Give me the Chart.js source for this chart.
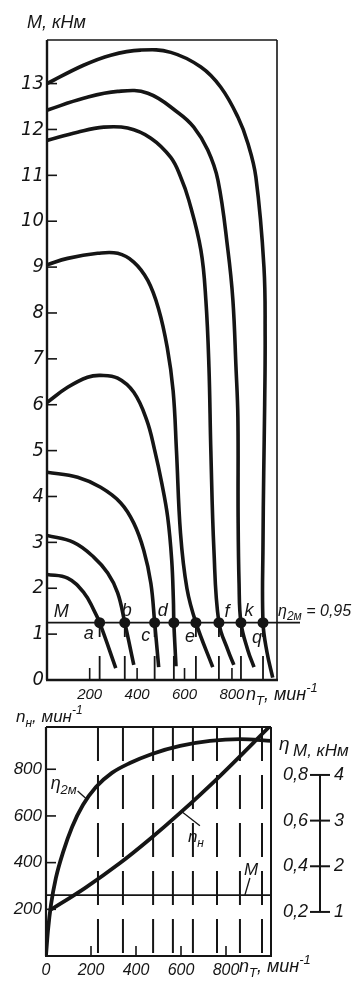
<!DOCTYPE html>
<html>
<head>
<meta charset="utf-8">
<script src="https://cdn.jsdelivr.net/npm/chart.js@4.4.1/dist/chart.umd.min.js"></script>
<style>
  html, body { margin: 0; padding: 0; background: #fff; }
  #wrap { position: relative; width: 364px; height: 989px; overflow: hidden; }
  #topChart { position: absolute; left: 0; top: 0; }
  #bottomChart { position: absolute; left: 0; top: 700px; }
</style>
</head>
<body>
<div id="wrap">
  <canvas id="topChart" width="364" height="720"></canvas>
  <canvas id="bottomChart" width="364" height="289"></canvas>
</div>
<script>
// ---- upper plot: M, kNm against n_T, one curve per working point
const curveA = [[20, 2.3], [107, 2.22], [176, 1.9], [217, 1.53], [242, 1.25], [310, 0.26]];
const curveB = [[20, 3.15], [132, 3.0], [217, 2.68], [276, 2.33], [318, 1.9], [348, 1.25], [386, 0.33]];
const curveC = [[20, 4.53], [149, 4.42], [246, 4.2], [331, 3.86], [386, 3.42], [428, 2.83], [458, 2.11], [474, 1.25], [491, 0.28]];
const curveD = [[20, 6.05], [107, 6.38], [191, 6.6], [246, 6.64], [318, 6.58], [386, 6.27], [441, 5.66], [474, 5.01], [504, 4.29], [529, 3.55], [546, 2.61], [553, 1.74], [555, 1.25], [564, 0.3]];
const curveE = [[20, 9.05], [107, 9.19], [234, 9.3], [318, 9.3], [386, 9.11], [445, 8.71], [490, 8.1], [527, 7.25], [552, 6.3], [566, 5.0], [583, 3.2], [610, 2.0], [648, 1.25], [719, 0.28]];
const curveF = [[20, 11.76], [149, 11.94], [259, 12.05], [360, 12.03], [458, 11.81], [542, 11.39], [584, 10.96], [618, 10.46], [669, 9.37], [690, 8.28], [703, 6.82], [711, 5.0], [724, 2.83], [745, 1.25], [783, 0.65], [808, 0.33]];
const curveK = [[20, 12.42], [174, 12.68], [318, 12.83], [445, 12.79], [572, 12.37], [639, 12.05], [698, 11.55], [741, 10.89], [783, 9.37], [804, 8.28], [817, 6.82], [825, 5.73], [826, 3.55], [830, 2.11], [838, 1.25], [867, 0.65], [893, 0.28]];
const curveQ = [[20, 13.0], [174, 13.4], [289, 13.62], [415, 13.73], [542, 13.68], [669, 13.36], [753, 12.92], [825, 12.27], [867, 11.7], [901, 10.96], [935, 9.0], [940, 7.5], [938, 6.0], [934, 4.5], [931, 3.0], [931, 1.25], [948, 0.6], [972, 0.05]];

const pointNames = ["a", "b", "c", "d", "e", "f", "k", "q"];
const pointN = [242, 348, 474, 555, 648, 745, 838, 931];
const loadM = 1.25;
const loadLineEnd = 1087;
const topXTicks = [200, 400, 600, 800];
const topYTicks = [0, 1, 2, 3, 4, 5, 6, 7, 8, 9, 10, 11, 12, 13];

// ---- lower plot: n_H, eta_2m, M against n_T
const etaN = [0, 9, 22, 44, 76, 116, 164, 222, 293, 373, 471, 596, 729, 862, 1000];
const etaVal = [0.01, 0.121, 0.23, 0.349, 0.462, 0.572, 0.668, 0.747, 0.809, 0.852, 0.892, 0.927, 0.949, 0.957, 0.949];
const nhN = [13, 173, 329, 462, 596, 773, 996];
const nhVal = [193, 291, 398, 501, 613, 771, 985];
const dashN = [231, 342, 476, 564, 653, 760, 862, 960];
const loadM2 = 1.37;
const botXTicks = [0, 200, 400, 600, 800];
const botYTicks = [200, 400, 600, 800];
const etaTicks = [0.2, 0.4, 0.6, 0.8];
const mTicks = [1, 2, 3, 4];

const ink = "#151515";
const fam = '"Liberation Sans", Arial, sans-serif';
const narrow = '"Liberation Sans Narrow", "DejaVu Sans Condensed", "Liberation Sans", sans-serif';

const pts = (arr) => arr.map(([x, y]) => ({ x, y }));

function drawRich(ctx, parts, x, y, size) {
    let cx = x;
    ctx.textAlign = "left";
    ctx.textBaseline = "alphabetic";
    parts.forEach((p) => {
        const s = p.sub || p.sup ? Math.round(size * 0.72) : size;
        ctx.font = "italic " + s + "px " + fam;
        const dy = p.sub ? size * 0.3 : p.sup ? -size * 0.45 : 0;
        ctx.fillText(p.t, cx, y + dy);
        cx += ctx.measureText(p.t).width;
    });
}

// frame round the plot area, thicker on the axes
const frame = {
    id: "frame",
    beforeDatasetsDraw(chart, args, opts) {
        const { ctx, chartArea: a } = chart;
        ctx.save();
        ctx.strokeStyle = ink;
        const side = (w, x1, y1, x2, y2) => {
            ctx.lineWidth = w;
            ctx.beginPath();
            ctx.moveTo(x1, y1);
            ctx.lineTo(x2, y2);
            ctx.stroke();
        };
        side(opts.left, a.left, a.top, a.left, a.bottom);
        side(opts.bottom, a.left - 1, a.bottom, a.right + 1, a.bottom);
        side(opts.top, a.left, a.top, a.right, a.top);
        side(opts.right, a.right, a.top, a.right, a.bottom);
        ctx.restore();
    },
};

// short tick marks drawn inwards
const innerTicks = {
    id: "innerTicks",
    afterDatasetsDraw(chart, args, opts) {
        const { ctx, chartArea: a, scales } = chart;
        ctx.save();
        ctx.strokeStyle = ink;
        ctx.lineWidth = 1.6;
        scales.y.ticks.forEach((t) => {
            if (t.value === scales.y.min) return;
            const py = scales.y.getPixelForValue(t.value);
            ctx.beginPath();
            ctx.moveTo(a.left, py);
            ctx.lineTo(a.left + opts.yLen, py);
            ctx.stroke();
        });
        scales.x.ticks.forEach((t) => {
            if (t.value === scales.x.min) return;
            const px = scales.x.getPixelForValue(t.value);
            ctx.beginPath();
            ctx.moveTo(px, a.bottom);
            ctx.lineTo(px, a.bottom - opts.xLen);
            ctx.stroke();
        });
        ctx.restore();
    },
};

// ---------- upper chart ----------
const topNotes = {
    id: "topNotes",
    afterDraw(chart) {
        const { ctx, scales } = chart;
        const x = scales.x, y = scales.y;
        ctx.save();
        ctx.fillStyle = ink;
        drawRich(ctx, [{ t: "M, кНм" }], 27, 28, 18);
        drawRich(ctx, [{ t: "n" }, { t: "Т", sub: true }, { t: ", мин" }, { t: "-1", sup: true }], 246, 700, 18);
        const py = y.getPixelForValue(loadM);
        const offs = [[-11, 11], [2, -12], [-9, 13], [-11, -12], [-6, 14], [8, -11], [8, -12], [-6, 15]];
        ctx.font = "italic 18px " + fam;
        ctx.textAlign = "center";
        ctx.textBaseline = "middle";
        pointNames.forEach((name, i) => {
            const px = x.getPixelForValue(pointN[i]);
            ctx.fillText(name, px + offs[i][0], py + offs[i][1]);
        });
        ctx.fillText("M", x.getPixelForValue(80), py - 11);
        drawRich(ctx, [{ t: "η" }, { t: "2м", sub: true }, { t: " = 0,95" }], 278, py - 7, 16);
        ctx.restore();
    },
};

const topSets = [
    {
        data: pointN.map((n) => ({ x: n, y: loadM })),
        showLine: false,
        pointRadius: 5.5,
        pointBackgroundColor: ink,
        pointBorderColor: ink,
        pointBorderWidth: 0,
    },
];
[curveA, curveB, curveC, curveD, curveE, curveF, curveK, curveQ].forEach((c) => {
    topSets.push({
        data: pts(c),
        showLine: true,
        tension: 0.4,
        borderColor: ink,
        borderWidth: 3.6,
        pointRadius: 0,
    });
});
topSets.push({
    data: [{ x: 20, y: loadM }, { x: loadLineEnd, y: loadM }],
    showLine: true,
    borderColor: ink,
    borderWidth: 1.8,
    pointRadius: 0,
    clip: false,
});
pointN.forEach((n) => {
    topSets.push({
        data: [{ x: n, y: 0 }, { x: n, y: loadM }],
        showLine: true,
        borderColor: ink,
        borderWidth: 1.8,
        borderDash: [24, 19],
        pointRadius: 0,
    });
});

new Chart(document.getElementById("topChart"), {
    type: "scatter",
    data: { datasets: topSets },
    options: {
        responsive: false,
        animation: false,
        layout: { padding: { left: 0, right: 87, top: 40, bottom: 0 } },
        plugins: {
            legend: { display: false },
            tooltip: { enabled: false },
            frame: { left: 2.4, bottom: 2.6, top: 1.5, right: 1.6 },
            innerTicks: { yLen: 10, xLen: 12 },
        },
        scales: {
            x: {
                type: "linear",
                min: 20,
                max: 990,
                afterBuildTicks: (s) => { s.ticks = topXTicks.map((v) => ({ value: v })); },
                afterFit: (s) => { s.height = 40; },
                grid: { display: false, drawTicks: false },
                border: { display: false },
                ticks: { color: ink, padding: 6, maxRotation: 0, autoSkip: false, font: { family: fam, size: 15, style: "italic" } },
            },
            y: {
                type: "linear",
                min: 0,
                max: 13.95,
                afterBuildTicks: (s) => { s.ticks = topYTicks.map((v) => ({ value: v })); },
                afterFit: (s) => { s.width = 47; },
                grid: { display: false, drawTicks: false },
                border: { display: false },
                ticks: { color: ink, padding: 3, autoSkip: false, font: { family: narrow, size: 20, style: "italic" } },
            },
        },
    },
    plugins: [frame, innerTicks, topNotes],
});

// ---------- lower chart ----------
const botNotes = {
    id: "botNotes",
    afterDraw(chart) {
        const { ctx, scales } = chart;
        const x = scales.x, y = scales.y, y2 = scales.y2, yM = scales.yM;
        ctx.save();
        ctx.fillStyle = ink;
        ctx.strokeStyle = ink;
        drawRich(ctx, [{ t: "n" }, { t: "н", sub: true }, { t: ", мин" }, { t: "-1", sup: true }], 16, 22, 17);
        drawRich(ctx, [{ t: "n" }, { t: "Т", sub: true }, { t: ", мин" }, { t: "-1", sup: true }], 239, 272, 18);

        // curve labels with leaders
        ctx.lineWidth = 1.3;
        const leader = (px, py, dx, dy) => {
            ctx.beginPath();
            ctx.moveTo(px, py);
            ctx.lineTo(px + dx, py + dy);
            ctx.stroke();
        };
        let px = x.getPixelForValue(185), py = y2.getPixelForValue(0.69);
        leader(px, py, -10, -9);
        drawRich(ctx, [{ t: "η" }, { t: "2м", sub: true }], px - 37, py - 11, 18);
        px = x.getPixelForValue(604); py = y.getPixelForValue(618);
        leader(px, py, 18, 14);
        drawRich(ctx, [{ t: "n" }, { t: "н", sub: true }], px + 6, py + 30, 17);
        px = x.getPixelForValue(884); py = yM.getPixelForValue(loadM2);
        leader(px, py, 5, -17);
        drawRich(ctx, [{ t: "M" }], px - 1, py - 20, 17);

        // side scale for eta and M
        const sx = 320;
        drawRich(ctx, [{ t: "η" }], 279, 50, 19);
        drawRich(ctx, [{ t: "M, кНм" }], 293, 56, 17);
        const top = y2.getPixelForValue(etaTicks[etaTicks.length - 1]);
        const bot = y2.getPixelForValue(etaTicks[0]);
        ctx.lineWidth = 2;
        leader(sx, top, 0, bot - top);
        ctx.font = "italic 18px " + fam;
        ctx.textBaseline = "middle";
        etaTicks.forEach((e, i) => {
            const ty = y2.getPixelForValue(e);
            ctx.beginPath();
            ctx.moveTo(sx - 10, ty);
            ctx.lineTo(sx + 10, ty);
            ctx.stroke();
            ctx.textAlign = "right";
            ctx.fillText(e.toFixed(1).replace(".", ","), sx - 12, ty);
            ctx.textAlign = "left";
            ctx.fillText(String(mTicks[i]), sx + 14, ty);
        });
        ctx.restore();
    },
};

const botSets = [
    {
        data: etaN.map((n, i) => ({ x: n, y: etaVal[i] })),
        yAxisID: "y2",
        showLine: true,
        cubicInterpolationMode: "monotone",
        borderColor: ink,
        borderWidth: 3.8,
        pointRadius: 0,
    },
    {
        data: nhN.map((n, i) => ({ x: n, y: nhVal[i] })),
        yAxisID: "y",
        showLine: true,
        cubicInterpolationMode: "monotone",
        borderColor: ink,
        borderWidth: 3.8,
        pointRadius: 0,
    },
    {
        data: [{ x: 0, y: loadM2 }, { x: 1000, y: loadM2 }],
        yAxisID: "yM",
        showLine: true,
        borderColor: ink,
        borderWidth: 1.8,
        pointRadius: 0,
    },
];
dashN.forEach((n) => {
    botSets.push({
        data: [{ x: n, y: 981 }, { x: n, y: 0 }],
        yAxisID: "y",
        showLine: true,
        borderColor: ink,
        borderWidth: 2,
        borderDash: [34, 14],
        pointRadius: 0,
    });
});

new Chart(document.getElementById("bottomChart"), {
    type: "scatter",
    data: { datasets: botSets },
    options: {
        responsive: false,
        animation: false,
        layout: { padding: { left: 0, right: 93, top: 27, bottom: 0 } },
        plugins: {
            legend: { display: false },
            tooltip: { enabled: false },
            frame: { left: 2.2, bottom: 2.2, top: 1.8, right: 2 },
            innerTicks: { yLen: 10, xLen: 10 },
        },
        scales: {
            x: {
                type: "linear",
                min: 0,
                max: 1000,
                afterBuildTicks: (s) => { s.ticks = botXTicks.map((v) => ({ value: v })); },
                afterFit: (s) => { s.height = 33; },
                grid: { display: false, drawTicks: false },
                border: { display: false },
                ticks: { color: ink, padding: 5, maxRotation: 0, autoSkip: false, font: { family: fam, size: 16, style: "italic" } },
            },
            y: {
                type: "linear",
                min: 0,
                max: 981,
                afterBuildTicks: (s) => { s.ticks = botYTicks.map((v) => ({ value: v })); },
                afterFit: (s) => { s.width = 46; },
                grid: { display: false, drawTicks: false },
                border: { display: false },
                ticks: { color: ink, padding: 4, autoSkip: false, font: { family: fam, size: 17, style: "italic" } },
            },
            y2: { type: "linear", display: false, min: 0.007, max: 1.01 },
            yM: { type: "linear", display: false, min: 0.035, max: 5.05 },
        },
    },
    plugins: [frame, innerTicks, botNotes],
});
</script>
</body>
</html>
